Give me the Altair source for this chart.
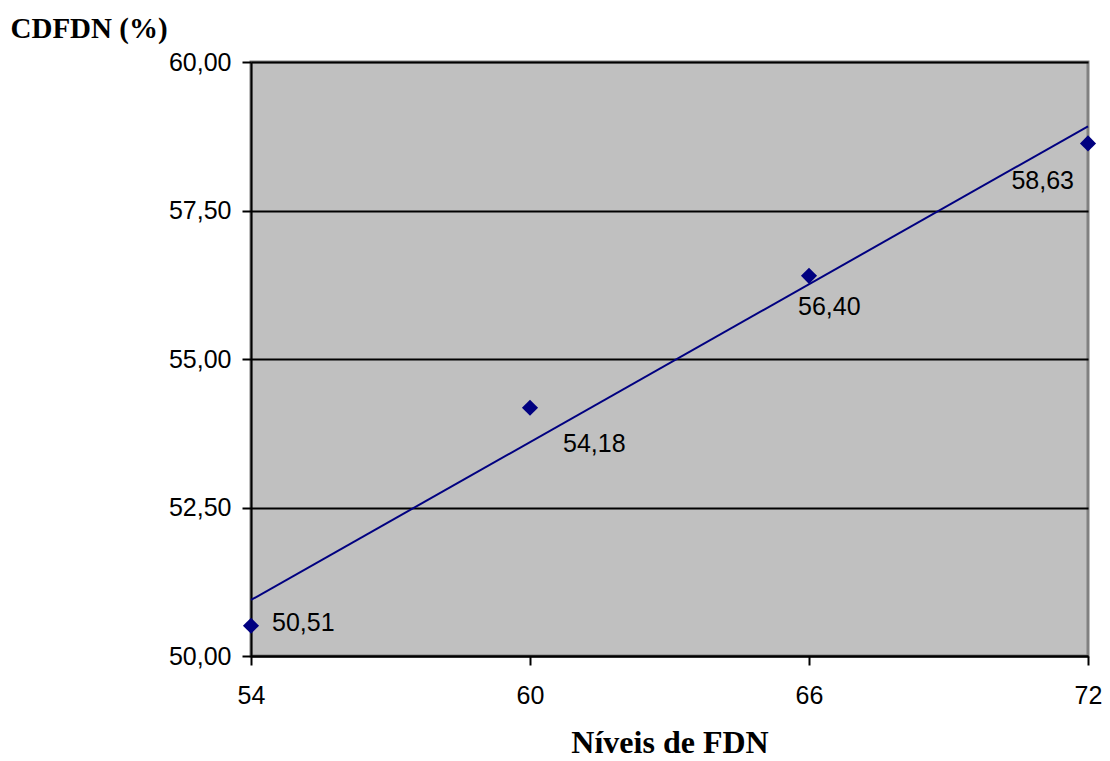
import altair as alt
import pandas as pd

fdn = [54, 60, 66, 72]
cdfdn = [50.51, 54.18, 56.40, 58.63]
labels = ["50,51", "54,18", "56,40", "58,63"]

df = pd.DataFrame({"fdn": fdn, "cdfdn": cdfdn, "label": labels})

# per-label placement (style, not data)
label_style = {
    54: dict(dx=21, dy=-3, align="left"),
    60: dict(dx=33, dy=36, align="left"),
    66: dict(dx=-11, dy=31, align="left"),
    72: dict(dx=-14, dy=38, align="right"),
}

xscale = alt.Scale(domain=[54, 72], nice=False, zero=False)
yscale = alt.Scale(domain=[50, 60], nice=False, zero=False)

base = alt.Chart(df)

xaxis = alt.Axis(
    values=[54, 60, 66, 72], grid=False, title="Níveis de FDN",
    titleFont="Liberation Serif", titleFontSize=32, titleFontWeight="bold",
    titleColor="black", titlePadding=19,
    labelFont="Liberation Sans", labelFontSize=25, labelColor="black",
    labelPadding=18, tickSize=9, tickWidth=2, tickColor="black",
    domainColor="black", domainWidth=2, labelFlush=False,
)
yaxis = alt.Axis(
    values=[50, 52.5, 55, 57.5, 60], grid=True, gridColor="black", gridWidth=2,
    gridOpacity=1,
    labelExpr="replace(format(datum.value, '.2f'), '.', ',')",
    title="CDFDN (%)", titleAngle=0, titleX=-241, titleY=-34,
    titleAlign="left", titleBaseline="middle",
    titleFont="Liberation Serif", titleFontSize=29, titleFontWeight="bold",
    titleColor="black",
    labelFont="Liberation Sans", labelFontSize=25, labelColor="black",
    labelPadding=11, tickSize=9, tickWidth=2, tickColor="black",
    domainColor="black", domainWidth=2, labelFlush=False,
)

line = base.mark_line(color="#000080", strokeWidth=2, clip=False).encode(
    x=alt.X("fdn:Q", scale=xscale, axis=xaxis),
    y=alt.Y("cdfdn:Q", scale=yscale, axis=yaxis),
).transform_regression("fdn", "cdfdn", extent=[54, 72])

points = base.mark_point(shape="diamond", filled=True, color="#000080",
                         size=260, opacity=1, clip=False).encode(
    x=alt.X("fdn:Q", scale=xscale),
    y=alt.Y("cdfdn:Q", scale=yscale),
)

texts = []
for xv, st in label_style.items():
    texts.append(
        base.transform_filter(alt.datum.fdn == xv).mark_text(
            font="Liberation Sans", fontSize=25, color="black",
            baseline="middle", **st
        ).encode(
            x=alt.X("fdn:Q", scale=xscale),
            y=alt.Y("cdfdn:Q", scale=yscale),
            text="label:N",
        )
    )

chart = alt.layer(line, points, *texts).properties(
    width=837, height=594,
    autosize=alt.AutoSizeParams(type="none"),
    padding={"left": 251, "top": 62, "right": 22, "bottom": 105},
    background="white",
).configure_view(
    fill="#C0C0C0", stroke="#808080", strokeWidth=3
)

chart.save("out.html", embed_options={"renderer": "svg", "actions": False})
